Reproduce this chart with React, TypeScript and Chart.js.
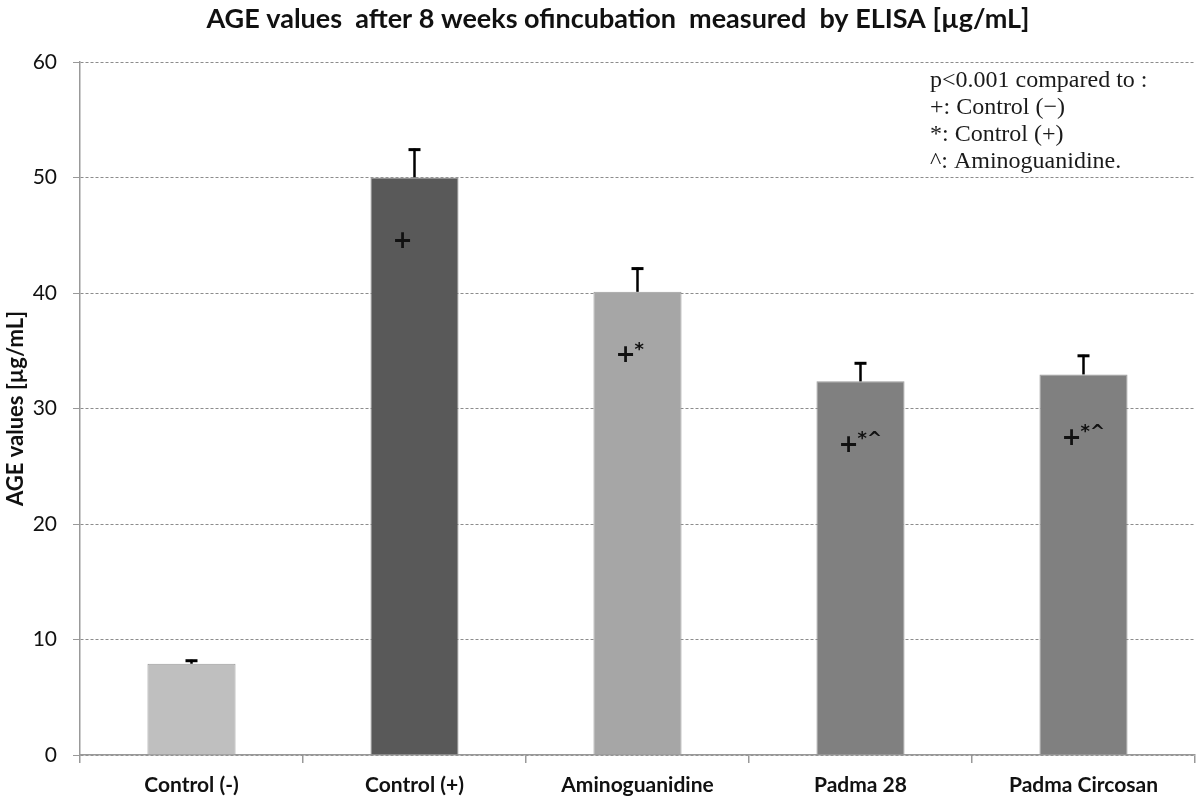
import React, { useEffect, useRef } from "react";
import { Chart, registerables } from "chart.js";

Chart.register(...registerables);

const categories = ["Control (-)", "Control (+)", "Aminoguanidine", "Padma 28", "Padma Circosan"];
const means = [7.9, 50.0, 40.1, 32.35, 32.95];
const errors = [0.35, 2.5, 2.1, 1.65, 1.7];
const markers = ["", "+", "+*", "+*^", "+*^"];
const barColors = ["#bfbfbf", "#595959", "#a6a6a6", "#808080", "#808080"];
const noteLines = ["p<0.001 compared to :", "+: Control (\u2212)", "*: Control (+)", "^: Aminoguanidine."];
const titleText = "AGE values  after 8 weeks ofincubation  measured  by ELISA [\u00b5g/mL]";

const overlayPlugin = {
  id: "overlay",
  afterDatasetsDraw(chart: any) {
    const { ctx, scales } = chart;
    const y = scales.y;
    const meta = chart.getDatasetMeta(0);
    ctx.save();
    // error bars
    meta.data.forEach((bar: any, i: number) => {
      const x = bar.x;
      const top = y.getPixelForValue(means[i] + errors[i]);
      const base = y.getPixelForValue(means[i]);
      ctx.strokeStyle = "#000";
      ctx.lineWidth = 2.5;
      ctx.beginPath();
      ctx.moveTo(x, base);
      ctx.lineTo(x, top);
      ctx.stroke();
      ctx.lineWidth = 3;
      ctx.beginPath();
      ctx.moveTo(x - 6, top + 1);
      ctx.lineTo(x + 6, top + 1);
      ctx.stroke();
    });
    // significance markers
    meta.data.forEach((bar: any, i: number) => {
      const m = markers[i];
      if (!m) return;
      const x = bar.x - 22;
      const yy = y.getPixelForValue(means[i]) + 64;
      ctx.fillStyle = "#111";
      ctx.textBaseline = "middle";
      ctx.textAlign = "left";
      ctx.font = "bold 24px 'DejaVu Sans'";
      ctx.fillText("+", x, yy);
      const w = ctx.measureText("+").width;
      if (m.length > 1) {
        ctx.font = "bold 18px 'DejaVu Sans'";
        ctx.fillText(m.slice(1), x + w - 1, yy - 6);
      }
    });
    // note
    ctx.fillStyle = "#1a1a1a";
    ctx.font = "24px 'Liberation Serif'";
    ctx.textAlign = "left";
    ctx.textBaseline = "middle";
    noteLines.forEach((t, i) => ctx.fillText(t, 930, 81 + i * 27));
    // title
    ctx.font = "bold 27px Lato";
    ctx.textAlign = "center";
    ctx.fillStyle = "#111";
    ctx.fillText(titleText, 618, 19);
    ctx.restore();
  },
};

export default function App() {
  const ref = useRef<HTMLCanvasElement>(null);
  useEffect(() => {
    document.body.style.margin = "0";
    const chart = new Chart(ref.current!, {
      type: "bar",
      data: {
        labels: categories,
        datasets: [
          {
            data: means,
            backgroundColor: barColors,
            borderColor: "#9a9a9a",
            borderWidth: 1,
            categoryPercentage: 1,
            barPercentage: 0.395,
          },
        ],
      },
      options: {
        responsive: false,
        animation: false,
        layout: { padding: { top: 62, right: 5, left: 0, bottom: 0 } },
        plugins: { legend: { display: false }, tooltip: { enabled: false }, title: { display: false } },
        scales: {
          x: {
            grid: { display: true, drawOnChartArea: false, offset: true, tickLength: 8, color: "#999", lineWidth: 1.5 },
            border: { display: true, color: "#999", width: 1.5 },
            ticks: { color: "#111", font: { family: "Lato", size: 21, weight: "bold" }, padding: 10 },
            afterFit: (s: any) => { s.height = 45; },
          },
          y: {
            min: 0,
            max: 60,
            ticks: { stepSize: 10, color: "#111", font: { family: "Lato", size: 21 }, padding: 16 },
            grid: { color: "#8c8c8c", tickBorderDash: [], tickLength: 7, tickColor: "#999", lineWidth: 1 },
            border: { display: true, color: "#999", width: 1.5, dash: [3, 2] },
            title: { display: true, text: "AGE values [\u00b5g/mL]", color: "#111", font: { family: "Lato", size: 22, weight: "bold" }, padding: 3 },
            afterFit: (s: any) => { s.width = 80; },
          },
        },
      },
      plugins: [overlayPlugin],
    });
    return () => chart.destroy();
  }, []);
  return <canvas ref={ref} width={1200} height={800} style={{ display: "block" }} />;
}
